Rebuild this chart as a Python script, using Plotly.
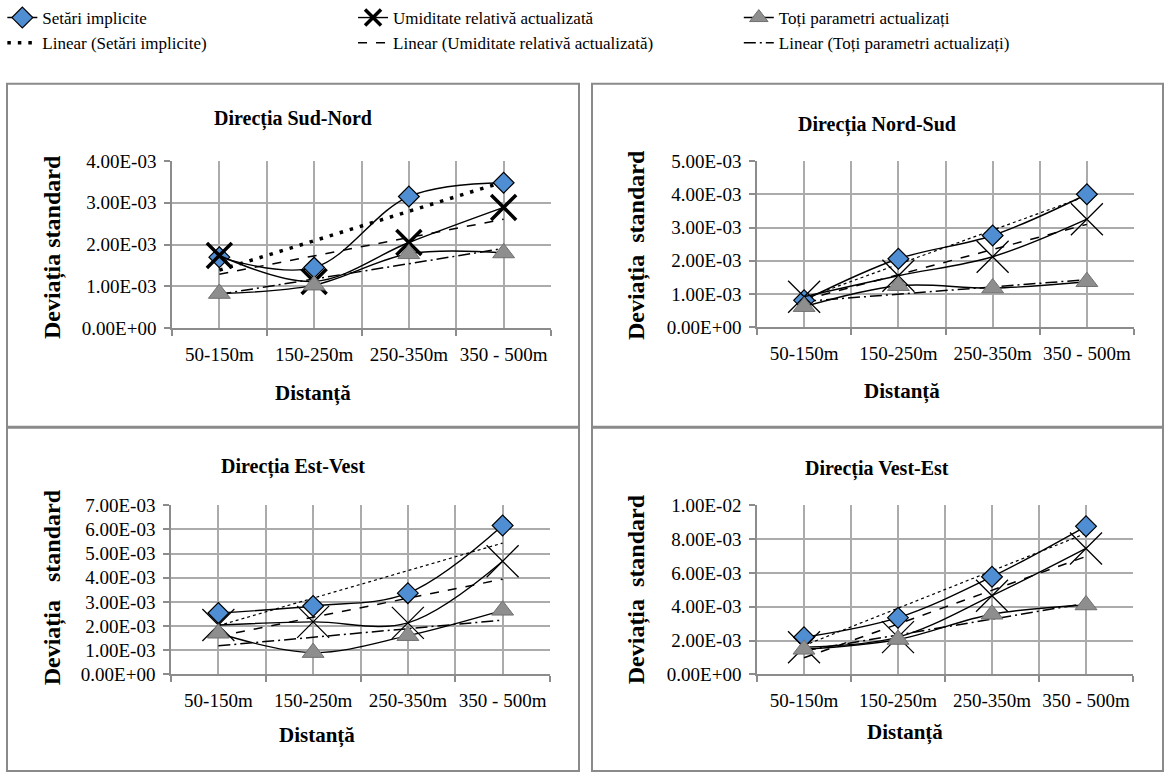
import numpy as np
import plotly.graph_objects as go

W, H = 1169, 783

categories = ["50-150m", "150-250m", "250-350m", "350 - 500m"]

series_names = ["Setări implicite", "Umiditate relativă actualizată", "Toți parametri actualizați"]
trend_names = ["Linear (Setări implicite)", "Linear (Umiditate relativă actualizată)",
               "Linear (Toți parametri actualizați)"]

# Direcția Sud-Nord
sn_setari = [1.70e-3, 1.45e-3, 3.15e-3, 3.48e-3]
sn_umid = [1.74e-3, 1.12e-3, 2.05e-3, 2.89e-3]
sn_toti = [0.83e-3, 1.03e-3, 1.78e-3, 1.80e-3]

# Direcția Nord-Sud
ns_setari = [0.81e-3, 2.06e-3, 2.76e-3, 4.00e-3]
ns_umid = [0.92e-3, 1.55e-3, 2.12e-3, 3.25e-3]
ns_toti = [0.62e-3, 1.25e-3, 1.18e-3, 1.37e-3]

# Direcția Est-Vest
ev_setari = [2.54e-3, 2.83e-3, 3.36e-3, 6.16e-3]
ev_umid = [2.04e-3, 2.17e-3, 2.13e-3, 4.68e-3]
ev_toti = [1.70e-3, 0.90e-3, 1.60e-3, 2.65e-3]

# Direcția Vest-Est
ve_setari = [2.19e-3, 3.35e-3, 5.77e-3, 8.75e-3]
ve_umid = [1.60e-3, 2.20e-3, 4.65e-3, 7.44e-3]
ve_toti = [1.48e-3, 2.06e-3, 3.55e-3, 4.10e-3]

titles = ["Direcția Sud-Nord", "Direcția Nord-Sud", "Direcția Est-Vest", "Direcția Vest-Est"]
y_titles = ["Deviația standard", "Deviația\u00a0\u00a0standard",
            "Deviația\u00a0\u00a0\u00a0standard", "Deviația\u00a0\u00a0standard"]
x_title = "Distanță"
y_max = [4e-3, 5e-3, 7e-3, 1e-2]
y_step = [1e-3, 1e-3, 1e-3, 2e-3]

panels_data = [
    (sn_setari, sn_umid, sn_toti),
    (ns_setari, ns_umid, ns_toti),
    (ev_setari, ev_umid, ev_toti),
    (ve_setari, ve_umid, ve_toti),
]

# layout in pixels
plot_px = [(172, 551, 151, 324), (757, 1134, 151, 323), (171, 550, 507, 682), (757, 1133, 507, 682)]
box_px = [(7, 579, 71, 426), (592, 1163, 71, 426), (7, 579, 427, 782), (592, 1163, 427, 782)]
title_px = [(293, 108), (877, 114), (293, 468), (877, 470)]
xtitle_px = [(313, 392), (902, 389), (317, 745), (905, 742)]
ytitle_px = [(52, 240), (636, 238), (52, 592), (636, 594)]

FONT = "Times New Roman, Liberation Serif, serif"
GRID = "#ABABAB"
AXIS = "#8C8C8C"
BLUE = "#4F8ED3"
GRAY = "#8E8E8E"

def px_x(x):
    return x / W

def px_y(y):
    return 1 - y / H

fig = go.Figure()
xs = [1, 2, 3, 4]

for i, (setari, umid, toti) in enumerate(panels_data):
    ax = "" if i == 0 else str(i + 1)
    xa, ya = "x" + ax, "y" + ax
    first = (i == 0)
    thick = (i == 0)

    trend_styles = [
        dict(color="black", width=3.5 if thick else 1.2, dash="3.5px,7px" if thick else "dot"),
        dict(color="black", width=1.5, dash="dash"),
        dict(color="black", width=1.5, dash="12px,4px,2px,4px"),
    ]
    for k, vals in enumerate([setari, umid, toti]):
        coef = np.polyfit(xs, vals, 1)
        tx = [1, 4]
        ty = [coef[0] * t + coef[1] for t in tx]
        fig.add_trace(go.Scatter(
            x=tx, y=ty, mode="lines", line=trend_styles[k], xaxis=xa, yaxis=ya,
            name=trend_names[k], showlegend=first, legend=["legend", "legend2", "legend3"][k],
            legendrank=2, hoverinfo="skip"))

    fig.add_trace(go.Scatter(
        x=xs, y=setari, mode="lines+markers", line=dict(color="black", width=1.4, shape="spline"),
        marker=dict(symbol="diamond", size=16, color=BLUE, line=dict(color="black", width=1.2)),
        xaxis=xa, yaxis=ya, name=series_names[0], showlegend=first, legend="legend", legendrank=1))
    fig.add_trace(go.Scatter(
        x=xs, y=umid, mode="lines+markers", line=dict(color="black", width=1.4, shape="spline"),
        marker=dict(symbol="x-thin", size=25 if thick else 32, color="black",
                    line=dict(color="black", width=3.5 if thick else 1.3)),
        xaxis=xa, yaxis=ya, name=series_names[1], showlegend=first, legend="legend2", legendrank=1))
    fig.add_trace(go.Scatter(
        x=xs, y=toti, mode="lines+markers", line=dict(color="black", width=1.4, shape="spline"),
        marker=dict(symbol="triangle-up", size=19, color=GRAY, line=dict(color="#707070", width=1)),
        xaxis=xa, yaxis=ya, name=series_names[2], showlegend=first, legend="legend3", legendrank=1))

axis_common_font = dict(family=FONT, size=19, color="black")
layout = dict(
    width=W, height=H, margin=dict(l=0, r=0, t=0, b=0),
    paper_bgcolor="white", plot_bgcolor="white", showlegend=True,
    font=dict(family=FONT, color="black"),
)

for i in range(4):
    ax = "" if i == 0 else str(i + 1)
    x0, x1, y0, y1 = plot_px[i]
    yt = list(np.arange(0, y_max[i] + y_step[i] / 2, y_step[i]))
    layout["xaxis" + ax] = dict(
        domain=[px_x(x0), px_x(x1)], anchor="y" + ax, range=[0.5, 4.5],
        tickvals=xs, ticktext=categories, showgrid=True, gridcolor=GRID, gridwidth=1.5,
        ticks="", showline=True, linecolor=AXIS, linewidth=1.5, zeroline=False,
        tickfont=axis_common_font, ticklabelstandoff=8,
        minor=dict(tickvals=[0.5, 1.5, 2.5, 3.5, 4.5], showgrid=True, gridcolor=GRID, gridwidth=1.5,
                   ticks="outside", ticklen=6, tickcolor=AXIS, tickwidth=1.5),
        fixedrange=True,
    )
    layout["yaxis" + ax] = dict(
        domain=[px_y(y1), px_y(y0)], anchor="x" + ax, range=[0, y_max[i]],
        tickvals=yt, ticktext=[("%.2E" % v) for v in yt],
        showgrid=True, gridcolor=GRID, gridwidth=1.5, zeroline=False,
        showline=True, linecolor=AXIS, linewidth=1.5, ticks="outside", ticklen=6,
        tickcolor=AXIS, tickwidth=1.5, tickfont=axis_common_font, ticklabelstandoff=4,
        fixedrange=True,
    )

annotations = []
shapes = []
for i in range(4):
    bx0, bx1, by0, by1 = box_px[i]
    shapes.append(dict(type="rect", xref="paper", yref="paper",
                       x0=px_x(bx0), x1=px_x(bx1), y0=px_y(by1), y1=px_y(by0),
                       line=dict(color="#8A8A8A", width=2), fillcolor="rgba(0,0,0,0)", layer="below"))
    tx, ty = title_px[i]
    annotations.append(dict(text="<b>%s</b>" % titles[i], x=px_x(tx), y=px_y(ty), xref="paper", yref="paper",
                            showarrow=False, xanchor="center", yanchor="middle",
                            font=dict(family=FONT, size=20, color="black")))
    tx, ty = xtitle_px[i]
    annotations.append(dict(text="<b>%s</b>" % x_title, x=px_x(tx), y=px_y(ty), xref="paper", yref="paper",
                            showarrow=False, xanchor="center", yanchor="middle",
                            font=dict(family=FONT, size=21, color="black")))
    tx, ty = ytitle_px[i]
    annotations.append(dict(text="<b>%s</b>" % y_titles[i], x=px_x(tx), y=px_y(ty), xref="paper", yref="paper",
                            showarrow=False, xanchor="center", yanchor="middle", textangle=-90,
                            font=dict(family=FONT, size=24, color="black")))

legend_common = dict(yanchor="top", xanchor="left", y=1.0 + 16 / H, bgcolor="rgba(0,0,0,0)",
                     font=dict(family=FONT, size=17, color="black"), tracegroupgap=0,
                     itemwidth=30, orientation="v", traceorder="normal")
layout["legend"] = dict(legend_common, x=0.002)
layout["legend2"] = dict(legend_common, x=0.302)
layout["legend3"] = dict(legend_common, x=0.632)
layout["annotations"] = annotations
layout["shapes"] = shapes

fig.update_layout(**layout)
fig.write_html("out.html")
